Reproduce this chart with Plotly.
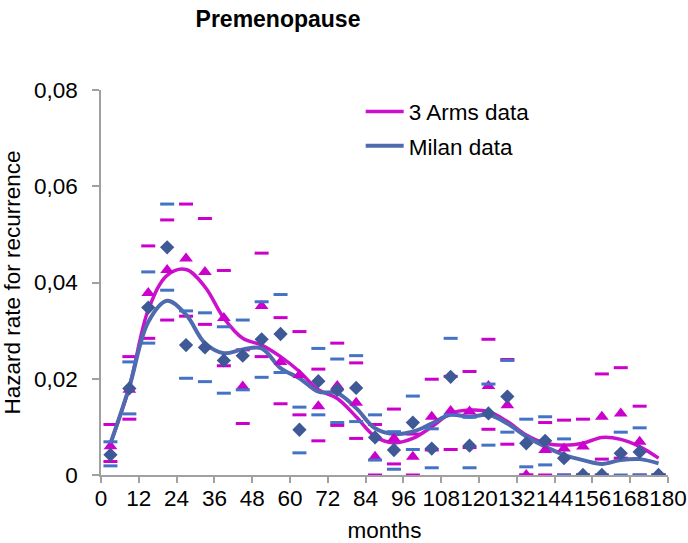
import plotly.graph_objects as go

months = [3, 9, 15, 21, 27, 33, 39, 45, 51, 57, 63, 69, 75, 81, 87,
          93, 99, 105, 111, 117, 123, 129, 135, 141, 147, 153, 159, 165, 171, 177]

arms_hazard = [0.0060, 0.0177, 0.0378, 0.0426, 0.0450, 0.0422, 0.0326, 0.0184, 0.0351, 0.0235,
               0.0208, 0.0143, 0.0185, 0.0150, 0.0038, 0.0076, 0.0038, 0.0121, 0.0133, 0.0132,
               0.0185, 0.0145, 0.0000, 0.0052, 0.0055, 0.0059, 0.0121, 0.0128, 0.0069, 0.0000]
arms_upper = [0.0105, 0.0246, 0.0476, 0.0530, 0.0563, 0.0533, 0.0425, 0.0260, 0.0461, 0.0327,
              0.0298, 0.0220, 0.0274, 0.0233, 0.0105, 0.0137, 0.0085, 0.0199, 0.0205, 0.0215,
              0.0282, 0.0240, 0.0000, 0.0109, 0.0114, 0.0116, 0.0210, 0.0223, 0.0143, 0.0000]
arms_lower = [0.0028, 0.0116, 0.0284, 0.0322, 0.0330, 0.0313, 0.0227, 0.0107, 0.0246, 0.0148,
              0.0125, 0.0071, 0.0103, 0.0076, 0.0000, 0.0023, 0.0000, 0.0052, 0.0053, 0.0057,
              0.0095, 0.0064, 0.0000, 0.0000, 0.0000, 0.0000, 0.0033, 0.0035, 0.0000, 0.0000]

milan_hazard = [0.0042, 0.0180, 0.0348, 0.0473, 0.0270, 0.0265, 0.0238, 0.0248, 0.0282, 0.0293,
                0.0094, 0.0195, 0.0177, 0.0181, 0.0078, 0.0052, 0.0109, 0.0055, 0.0204, 0.0061,
                0.0128, 0.0163, 0.0066, 0.0071, 0.0035, 0.0000, 0.0000, 0.0045, 0.0048, 0.0000]
milan_upper = [0.0069, 0.0235, 0.0422, 0.0563, 0.0341, 0.0337, 0.0308, 0.0322, 0.0360, 0.0375,
               0.0141, 0.0263, 0.0241, 0.0248, 0.0125, 0.0090, 0.0164, 0.0096, 0.0284, 0.0120,
               0.0189, 0.0238, 0.0116, 0.0121, 0.0075, 0.0000, 0.0000, 0.0089, 0.0098, 0.0000]
milan_lower = [0.0019, 0.0127, 0.0274, 0.0384, 0.0201, 0.0194, 0.0170, 0.0177, 0.0203, 0.0213,
               0.0046, 0.0125, 0.0109, 0.0111, 0.0031, 0.0012, 0.0053, 0.0015, 0.0125, 0.0015,
               0.0062, 0.0089, 0.0017, 0.0021, 0.0000, 0.0000, 0.0000, 0.0000, 0.0000, 0.0000]

arms_curve = [0.0066, 0.0183, 0.0343, 0.0415, 0.0427, 0.0391, 0.0326, 0.0284, 0.0270, 0.0246,
              0.0215, 0.0177, 0.0159, 0.0121, 0.0080, 0.0067, 0.0076, 0.0100, 0.0128, 0.0135,
              0.0132, 0.0111, 0.0083, 0.0066, 0.0062, 0.0066, 0.0078, 0.0074, 0.0059, 0.0035]
milan_curve = [0.0065, 0.0183, 0.0318, 0.0362, 0.0333, 0.0274, 0.0253, 0.0261, 0.0263, 0.0222,
               0.0201, 0.0173, 0.0170, 0.0139, 0.0097, 0.0085, 0.0090, 0.0107, 0.0125, 0.0121,
               0.0125, 0.0107, 0.0080, 0.0059, 0.0042, 0.0031, 0.0023, 0.0031, 0.0033, 0.0024]

x_ticks = list(range(0, 181, 12))
y_ticks = [0, 0.02, 0.04, 0.06, 0.08]
y_tick_labels = ["0", "0,02", "0,04", "0,06", "0,08"]

MAG = "#CC00CC"
MAG_LINE = "#CC11CC"
BLUE_DASH = "#4472C4"
BLUE_LINE = "#4F6AAE"
DIAMOND = "#3F5896"
FONT = "Liberation Sans, Arial, sans-serif"

fig = go.Figure()

def dash_trace(y, color):
    return go.Scatter(x=months, y=y, mode="markers", showlegend=False, hoverinfo="skip",
                      marker=dict(symbol="line-ew", size=10,
                                  line=dict(color=color, width=3)))

fig.add_trace(dash_trace(arms_upper, MAG))
fig.add_trace(dash_trace(arms_lower, MAG))

fig.add_trace(go.Scatter(x=months, y=arms_curve, mode="lines", name="3 Arms data",
                         legendgroup="a",
                         line=dict(color=MAG_LINE, width=3.5, shape="spline", smoothing=1)))
fig.add_trace(go.Scatter(x=months, y=milan_curve, mode="lines", name="Milan data",
                         legendgroup="b",
                         line=dict(color=BLUE_LINE, width=4, shape="spline", smoothing=1)))

fig.add_trace(go.Scatter(x=months, y=arms_hazard, mode="markers", showlegend=False,
                         marker=dict(symbol="triangle-up", size=12, color=MAG)))
fig.add_trace(dash_trace(milan_upper, BLUE_DASH))
fig.add_trace(dash_trace(milan_lower, BLUE_DASH))
fig.add_trace(go.Scatter(x=months, y=milan_hazard, mode="markers", showlegend=False,
                         marker=dict(symbol="diamond", size=11, color=DIAMOND)))

W, H = 688, 543
axis_color = "#A0A0A0"
fig.update_layout(
    width=W, height=H, autosize=False,
    margin=dict(l=101, r=20, t=90, b=68),
    paper_bgcolor="white", plot_bgcolor="white",
    font=dict(family=FONT, size=22.5, color="black"),
    title=dict(text="<b>Premenopause</b>", x=278 / W, xanchor="center",
               y=1 - 19 / H, yanchor="middle", automargin=False,
               font=dict(family=FONT, size=23, color="black")),
    showlegend=True,
    legend=dict(x=0.458, y=0.999, xanchor="left", yanchor="top",
                bgcolor="rgba(0,0,0,0)", font=dict(family=FONT, size=22.5),
                traceorder="grouped", tracegroupgap=2, itemwidth=38),
    xaxis=dict(range=[0, 180], tickvals=x_ticks, ticktext=[str(v) for v in x_ticks],
               tickangle=0, showgrid=False, zeroline=False, automargin=False,
               showline=True, linecolor=axis_color, linewidth=1.5,
               ticks="outside", ticklen=6, tickcolor=axis_color, tickwidth=1.5,
               tickfont=dict(family=FONT, size=22.5), ticklabelstandoff=-4,
               title=dict(text="months", font=dict(family=FONT, size=22.5), standoff=13)),
    yaxis=dict(range=[0, 0.08], tickvals=y_ticks, ticktext=y_tick_labels,
               showgrid=False, zeroline=False, automargin=False,
               showline=True, linecolor=axis_color, linewidth=1.5,
               ticks="outside", ticklen=7, tickcolor=axis_color, tickwidth=1.5,
               tickfont=dict(family=FONT, size=22.5), ticklabelstandoff=10,
               title=dict(text="Hazard rate for recurrence",
                          font=dict(family=FONT, size=22.5), standoff=17)),
)

# remove the browser's default 8px body margin so the figure fills the window
fig.write_html("out.html", config={"displayModeBar": False},
               post_script="document.body.style.margin='0';document.body.style.overflow='hidden';")
